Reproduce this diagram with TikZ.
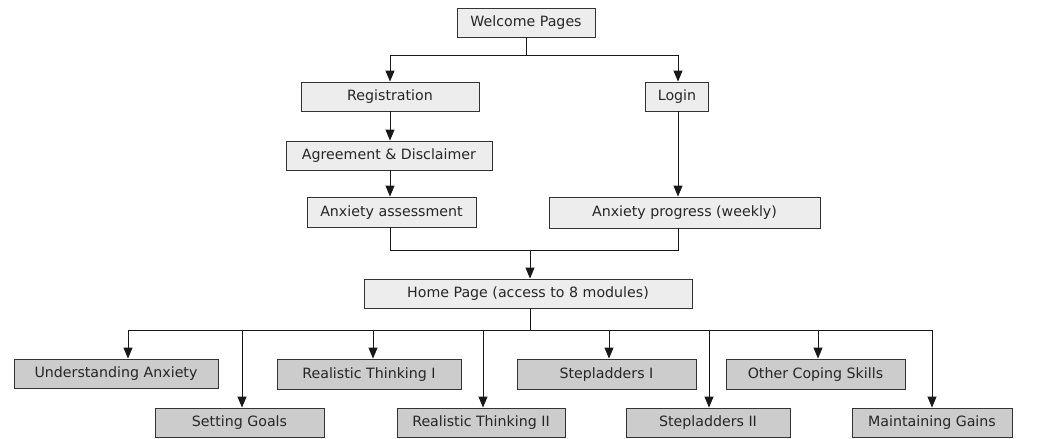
\documentclass[tikz,border=0pt]{standalone}
\usepackage{fontspec}
\setmainfont{DejaVu Sans}
\usetikzlibrary{arrows.meta}
\begin{document}
\begin{tikzpicture}[x=1pt,y=-1pt,
  box/.style={draw=black!80, line width=0.9pt, fill=#1, inner sep=0pt, font=\fontsize{14.2}{16}\selectfont, text=black!85, text height=0.86em, text depth=0pt},
  box/.default={black!7},
  lbox/.style={box=black!7},
  dbox/.style={box=black!20},
  line/.style={draw=black!90, line width=0.9pt},
  arr/.style={line, -{Triangle[width=9pt,length=11pt]}}]
\useasboundingbox (0,0) rectangle (1037,439);
\fill[white] (0,0) rectangle (1037,439);
% top part
\node[lbox, minimum width=138pt, minimum height=29pt] (welcome) at (526,22.5) {Welcome Pages};
\node[lbox, minimum width=178pt, minimum height=29pt] (reg) at (390,96.5) {Registration};
\node[lbox, minimum width=63pt, minimum height=29pt] (login) at (677,96.5) {Login};
\node[lbox, minimum width=206pt, minimum height=29pt] (agree) at (389,155.5) {Agreement \& Disclaimer};
\node[lbox, minimum width=169pt, minimum height=30pt] (assess) at (391.5,212) {Anxiety assessment};
\node[lbox, minimum width=271pt, minimum height=31pt] (progress) at (684.5,212.5) {Anxiety progress (weekly)};
\node[lbox, minimum width=328pt, minimum height=29pt] (home) at (528,293.5) {Home Page (access to 8 modules)};
% modules
\node[dbox, minimum width=204pt, minimum height=29pt] (ua) at (116,373.5) {Understanding Anxiety};
\node[dbox, minimum width=169pt, minimum height=29pt] (sg) at (239.5,422.5) {Setting Goals};
\node[dbox, minimum width=184pt, minimum height=30pt] (rt1) at (369,374) {Realistic Thinking I};
\node[dbox, minimum width=168pt, minimum height=29pt] (rt2) at (481,422.5) {Realistic Thinking II};
\node[dbox, minimum width=179pt, minimum height=30pt] (s1) at (606.5,374) {Stepladders I};
\node[dbox, minimum width=164pt, minimum height=29pt] (s2) at (708,422.5) {Stepladders II};
\node[dbox, minimum width=179pt, minimum height=30pt] (ocs) at (815.5,374) {Other Coping Skills};
\node[dbox, minimum width=160pt, minimum height=29pt] (mg) at (932,422.5) {Maintaining Gains};
% junction coordinates
\coordinate (j0) at (526,55);
\coordinate (jl) at (390,55);
\coordinate (jr) at (678,55);
\coordinate (j1) at (530,250);
\coordinate (j2) at (530,330);
\coordinate (a1) at (128,330);
\coordinate (a2) at (242,330);
\coordinate (a3) at (373,330);
\coordinate (a4) at (483,330);
\coordinate (a5) at (609,330);
\coordinate (a6) at (709,330);
\coordinate (a7) at (818,330);
\coordinate (a8) at (932,330);
% connectors top
\draw[line] (welcome.south) -- (j0);
\draw[line] (jl) -- (jr);
\draw[arr] (jl) -- (jl |- reg.north);
\draw[arr] (jr) -- (jr |- login.north);
\draw[arr] (reg.south) -- (agree.north -| reg.south);
\draw[arr] (agree.south -| reg.south) -- (assess.north -| reg.south);
\draw[arr] (jr |- login.south) -- (jr |- progress.north);
\draw[line] (assess.south -| jl) |- (j1);
\draw[line] (progress.south -| jr) |- (j1);
\draw[arr] (j1) -- (j1 |- home.north);
% connectors bottom
\draw[line] (j2 |- home.south) -- (j2);
\draw[line] (a1) -- (a8);
\draw[arr] (a1) -- (a1 |- ua.north);
\draw[arr] (a2) -- (a2 |- sg.north);
\draw[arr] (a3) -- (a3 |- rt1.north);
\draw[arr] (a4) -- (a4 |- rt2.north);
\draw[arr] (a5) -- (a5 |- s1.north);
\draw[arr] (a6) -- (a6 |- s2.north);
\draw[arr] (a7) -- (a7 |- ocs.north);
\draw[arr] (a8) -- (a8 |- mg.north);
\end{tikzpicture}
\end{document}
